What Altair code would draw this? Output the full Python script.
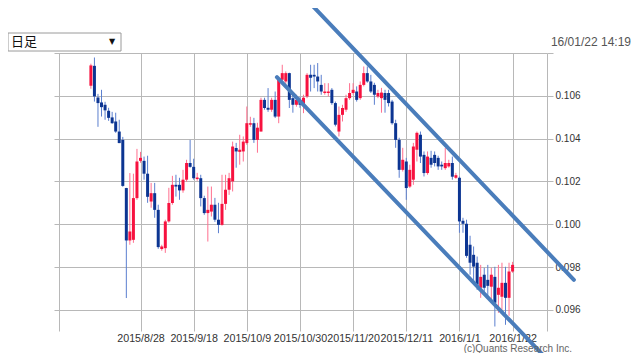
import json
import altair as alt
import pandas as pd

# trading-day slot of each daily candle (2015/8/10 .. 2016/1/22)
slot = list(range(9, 129))

opens = [
    .10647, .10740, .10592, .10569, .10558, .10530, .10499, .10480, .10433, .10394,
    .10169, .09924, .09927, .10122, .10296, .10296, .10236, .10106, .10145, .10067,
    .09884, .09888, .10013, .10099, .10184, .10184, .10158, .10208, .10286, .10268,
    .10211, .10215, .10122, .10052, .10059, .10091, .10021, .09997, .10095, .10161,
    .10200, .10356, .10338, .10340, .10379, .10465, .10472, .10394, .10433, .10581,
    .10544, .10535, .10581, .10503, .10675, .10667, .10706, .10589, .10558, .10581,
    .10558, .10597, .10698, .10698, .10690, .10651, .10613, .10613, .10628, .10566,
    .10433, .10511, .10535, .10589, .10613, .10620, .10589, .10651, .10706, .10667,
    .10651, .10597, .10589, .10613, .10613, .10573, .10472, .10394, .10254, .10293,
    .10176, .10208, .10348, .10418, .10324, .10239, .10310, .10324, .10310, .10278,
    .10262, .10270, .10286, .10217, .10217, .10016, .10002, .09904, .09857, .09820,
    .09703, .09764, .09740, .09708, .09754, .09670, .09661, .09726, .09656, .09779,
]
highs = [
    .10750, .10779, .10609, .10628, .10572, .10544, .10525, .10521, .10488, .10408,
    .10170, .10239, .10236, .10352, .10338, .10316, .10320, .10193, .10193, .10091,
    .09904, .10021, .10170, .10226, .10231, .10217, .10254, .10301, .10394, .10306,
    .10240, .10231, .10133, .10176, .10176, .10123, .10100, .10231, .10231, .10240,
    .10386, .10380, .10418, .10410, .10550, .10502, .10497, .10474, .10591, .10591,
    .10636, .10591, .10620, .10684, .10745, .10714, .10708, .10605, .10605, .10595,
    .10605, .10706, .10745, .10745, .10753, .10698, .10659, .10659, .10636, .10573,
    .10550, .10558, .10605, .10659, .10659, .10644, .10667, .10737, .10737, .10698,
    .10661, .10628, .10637, .10628, .10628, .10581, .10488, .10404, .10357, .10310,
    .10278, .10380, .10433, .10433, .10340, .10340, .10343, .10340, .10320, .10293,
    .10356, .10301, .10316, .10240, .10223, .10030, .10021, .09946, .09896, .09849,
    .09810, .09796, .09810, .09796, .09801, .09810, .09820, .09801, .09820, .09824,
]
lows = [
    .10633, .10573, .10455, .10503, .10488, .10483, .10469, .10427, .10379, .10175,
    .09655, .09904, .09913, .10114, .10287, .10208, .10100, .10077, .10030, .09885,
    .09876, .09866, .10007, .10091, .10129, .10114, .10147, .10198, .10264, .10208,
    .10203, .10083, .10044, .09919, .10036, .10011, .09958, .09993, .10067, .10137,
    .10153, .10264, .10278, .10293, .10371, .10455, .10380, .10334, .10433, .10535,
    .10525, .10525, .10496, .10472, .10665, .10656, .10543, .10521, .10549, .10544,
    .10519, .10589, .10620, .10636, .10620, .10605, .10605, .10597, .10558, .10457,
    .10410, .10480, .10525, .10581, .10605, .10573, .10581, .10644, .10661, .10613,
    .10558, .10589, .10521, .10521, .10550, .10465, .10357, .10217, .10246, .10114,
    .10169, .10184, .10293, .10286, .10223, .10231, .10264, .10270, .10254, .10254,
    .10254, .10264, .10208, .10212, .09960, .09960, .09843, .09764, .09732, .09693,
    .09656, .09684, .09656, .09647, .09522, .09586, .09600, .09530, .09572, .09773,
]
closes = [
    .10742, .10597, .10566, .10547, .10532, .10497, .10472, .10433, .10379, .10179,
    .09924, .09966, .10122, .10293, .10310, .10236, .10128, .10145, .10067, .09893,
    .09896, .10013, .10099, .10184, .10176, .10158, .10208, .10286, .10268, .10215,
    .10218, .10122, .10052, .10067, .10091, .10021, .09997, .10095, .10161, .10215,
    .10363, .10340, .10348, .10386, .10472, .10472, .10394, .10451, .10581, .10543,
    .10535, .10581, .10503, .10675, .10706, .10706, .10581, .10558, .10581, .10558,
    .10591, .10698, .10684, .10690, .10667, .10620, .10620, .10620, .10566, .10465,
    .10511, .10543, .10589, .10613, .10628, .10581, .10651, .10706, .10667, .10620,
    .10605, .10613, .10615, .10581, .10566, .10472, .10394, .10254, .10301, .10169,
    .10254, .10363, .10427, .10316, .10239, .10316, .10278, .10286, .10270, .10270,
    .10286, .10286, .10222, .10229, .10013, .10002, .09852, .09820, .09802, .09717,
    .09754, .09703, .09712, .09764, .09633, .09703, .09726, .09656, .09779, .09810,
]

tick_slots = [0, 23, 38, 53, 68, 83, 98, 113, 128]
tick_labels = ["", "2015/8/28", "2015/9/18", "2015/10/9", "2015/10/30",
               "2015/11/20", "2015/12/11", "2016/1/1", "2016/1/22"]
y_ticks = [0.096, 0.098, 0.100, 0.102, 0.104, 0.106, 0.108]

trend_name = ["upper", "upper", "lower", "lower"]
trend_slot = [70.2, 145.3, 61.5, 136.8]
trend_price = [0.11044, 0.09740, 0.10687, 0.09385]

df = pd.DataFrame({"i": slot, "o": opens, "h": highs, "l": lows, "c": closes})
df["dir"] = ["up" if c >= o else "down" for o, c in zip(opens, closes)]
tr = pd.DataFrame({"i": trend_slot, "p": trend_price, "line": trend_name})

GRID = "#b8b8b8"
FONT = "Liberation Sans"

xscale = alt.Scale(domain=[0, 136.3], nice=False, zero=False)
yscale = alt.Scale(domain=[0.09501, 0.108], nice=False, zero=False)

x_expr = "%s[indexof(%s, datum.value)]" % (json.dumps(tick_labels), json.dumps(tick_slots))
xaxis = alt.Axis(values=tick_slots, labelExpr=x_expr, grid=True, gridColor=GRID,
                 gridWidth=1, domain=False, ticks=False, labelPadding=2,
                 labelFontSize=10.7, labelFont=FONT, labelColor="#333",
                 labelOverlap=False, labelFlush=False, labelBound=False, title=None)
yaxis = alt.Axis(orient="right", values=y_ticks,
                 labelExpr="datum.value > 0.1075 ? '' : format(datum.value, '.3f')",
                 grid=True, gridColor=GRID, gridWidth=1, domain=True,
                 domainColor=GRID, tickColor=GRID, tickSize=6, labelPadding=2,
                 labelFontSize=10, labelFont=FONT, labelColor="#333",
                 labelOverlap=False, labelFlush=False, title=None)

def X(f):
    return alt.X(f, type="quantitative", scale=xscale, axis=xaxis)

def Y(f):
    return alt.Y(f, type="quantitative", scale=yscale, axis=yaxis)

wick_color = alt.Color("dir:N", scale=alt.Scale(domain=["up", "down"],
                       range=["#ff6f8e", "#5b7fcf"]), legend=None)

wicks = alt.Chart(df).mark_rule(strokeWidth=1).encode(
    x=X("i"), y=Y("l"), y2="h:Q", color=wick_color)
bodies = alt.Chart(df).mark_bar(size=3).encode(
    x=X("i"), y=Y("o"), y2="c:Q",
    color=alt.Color("dir:N", scale=alt.Scale(domain=["up", "down"],
                    range=["#f7123f", "#0c3592"]), legend=None))

trend = alt.Chart(tr).mark_line(strokeWidth=4, color="#4a7dbb", clip=False,
                                 strokeCap="round").encode(
    x=X("i"), y=Y("p"), detail="line:N")

one = pd.DataFrame({"t": [""]})

def txt(text, x, y, size, color, align, font):
    return alt.Chart(pd.DataFrame({"t": [text]})).mark_text(
        align=align, baseline="middle", fontSize=size, color=color, font=font
    ).encode(x=alt.value(x), y=alt.value(y), text="t:N")

box = alt.Chart(one).mark_rect(fill="white", stroke="#9a9a9a", strokeWidth=1).encode(
    x=alt.value(-46), x2=alt.value(67), y=alt.value(-20), y2=alt.value(-2))

layers = [
    wicks, bodies, trend, box,
    txt("日足", -43, -11, 13, "#111", "left", "Noto Sans CJK JP"),
    txt("▼", 58, -11, 8, "#111", "center", "DejaVu Sans"),
    txt("16/01/22 14:19", 577, -11, 12, "#555", "right", FONT),
    txt("(c)Quants Research Inc.", 518, 296, 10, "#666", "right", FONT),
]

chart = alt.layer(*layers).properties(
    width=493, height=278,
    padding={"left": 46, "top": 45, "right": 85, "bottom": 22},
    autosize="none",
).configure_view(stroke=None).resolve_scale(color="independent")

chart.save("out.html", embed_options={"renderer": "svg", "actions": False})
